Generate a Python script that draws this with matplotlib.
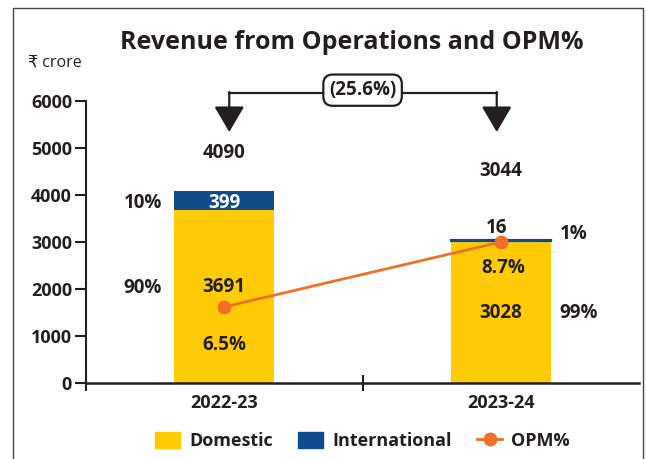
import matplotlib
matplotlib.use("Agg")
import matplotlib.pyplot as plt
from matplotlib.lines import Line2D
from matplotlib.patches import Patch, Rectangle

plt.rcParams['font.family'] = ['Open Sans', 'DejaVu Sans']

years = ['2022-23', '2023-24']
domestic = [3691, 3028]
international = [399, 16]
totals = [4090, 3044]
opm = [6.5, 8.7]
dom_share = ['90%', '99%']
intl_share = ['10%', '1%']
growth = '(25.6%)'

yellow = '#FFCB05'
blue = '#104C8C'
orange = '#F07025'
dark = '#231F20'

fig = plt.figure(figsize=(6.47, 4.59), dpi=100)
ax = fig.add_axes([0.1329, 0.1656, 0.855, 0.6144])

x = list(range(len(years)))
ax.bar(x, domestic, width=0.36, color=yellow, zorder=2)
intl_bars = ax.bar(x, international, bottom=domestic, width=0.36, color=blue, zorder=2)
# thin segment is drawn a bit thicker so it stays visible
intl_bars[1].set_edgecolor(blue)
intl_bars[1].set_linewidth(1.6)

ax.set_xlim(-0.5, 1.5)
ax.set_ylim(0, 6000)
ax.set_yticks(range(0, 6001, 1000))
ax.set_xticks([-0.5, 0.5])
ax.set_xticklabels([])
ax.tick_params(axis='x', direction='inout', length=12, width=1.5, color=dark)
ax.tick_params(axis='y', direction='out', length=8, width=1.5, color=dark, labelsize=13, labelcolor=dark, pad=2)
for lab in ax.get_yticklabels():
    lab.set_fontweight('bold')
for s in ['top', 'right']:
    ax.spines[s].set_visible(False)
ax.spines['left'].set_linewidth(1.5)
ax.spines['bottom'].set_linewidth(1.8)
ax.spines['left'].set_color(dark)
ax.spines['bottom'].set_color(dark)

for i, yr in enumerate(years):
    ax.text(i, -230, yr, ha='center', va='top', fontsize=13, fontweight='bold', color=dark)

# OPM on hidden twin axis
ax2 = ax.twinx()
ax2.set_ylim(3.92, 13.48)
ax2.axis('off')
ax2.plot(x, opm, color=orange, lw=2, marker='o', markersize=9, zorder=3)

# labels
lab = dict(ha='center', va='center', fontsize=13.5, fontweight='bold', color=dark)
ax.text(0, 4894, str(totals[0]), **lab)
ax.text(1, 4511, str(totals[1]), **lab)
ax.text(0, 3830, str(international[0]), **{**lab, 'color': 'white'})
ax.text(0.984, 3298, str(international[1]), **lab)
ax.text(0, 2043, str(domestic[0]), **lab)
ax.text(1, 1489, str(domestic[1]), **lab)
ax.text(0, 809, f'{opm[0]}%', **lab)
ax.text(1.009, 2447, f'{opm[1]}%', **lab)
ax.text(-0.294, 3830, intl_share[0], **lab)
ax.text(-0.294, 2021, dom_share[0], **lab)
ax.text(1.265, 3170, intl_share[1], **lab)
ax.text(1.28, 1489, dom_share[1], **lab)

# growth bracket
yb = 6170
ax.plot([0.018, 0.985], [yb, yb], color=dark, lw=1.6, clip_on=False, zorder=4)
for xa in [0.018, 0.985]:
    ax.annotate('', xy=(xa, 5340), xytext=(xa, yb + 20), annotation_clip=False,
                arrowprops=dict(arrowstyle='-|>,head_length=0.8,head_width=0.47',
                                mutation_scale=20, color=dark, lw=1.6, shrinkA=0, shrinkB=0))
ax.text(0.5, 6230, growth, ha='center', va='center', fontsize=13.5, fontweight='bold', color=dark,
        zorder=5, bbox=dict(boxstyle='round,pad=0.3,rounding_size=0.5', fc='white', ec=dark, lw=1.6))

# title, unit
fig.text(0.543, 0.908, 'Revenue from Operations and OPM%', ha='center', va='center',
         fontsize=18, fontweight='bold', color=dark)
fig.text(0.043, 0.862, '₹ crore', ha='left', va='center', fontsize=11.5, color=dark)

# frame
fig.patches.append(Rectangle((13 / 647, -0.05), 630 / 647, 1.05 - 8 / 459, transform=fig.transFigure,
                             fill=False, ec='#444444', lw=1.0))

handles = [Patch(color=yellow, label='Domestic'), Patch(color=blue, label='International'),
           Line2D([], [], color=orange, lw=2, marker='o', markersize=9, label='OPM%')]
fig.legend(handles=handles, loc='center', bbox_to_anchor=(0.56, 0.04), ncol=3, frameon=False,
           prop=dict(size=13, weight='bold'), handlelength=1.4, handleheight=1.0,
           handletextpad=0.5, columnspacing=1.4, labelcolor=dark)

fig.savefig('out.png', dpi=100)
